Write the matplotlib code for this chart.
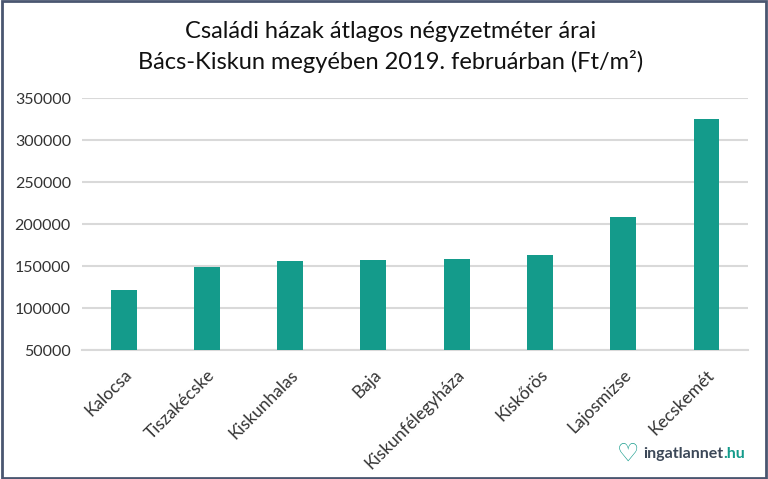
import matplotlib
matplotlib.use("Agg")
from matplotlib import pyplot as plt
from matplotlib.patches import Rectangle

plt.rcParams['font.family'] = ['Lato', 'DejaVu Sans']

cities = ['Kalocsa', 'Tiszakécske', 'Kiskunhalas', 'Baja', 'Kiskunfélegyháza',
          'Kiskőrös', 'Lajosmizse', 'Kecskemét']
prices = [121000, 148500, 155500, 157000, 158000, 163000, 208000, 324500]
yticks = [50000, 100000, 150000, 200000, 250000, 300000, 350000]

bar_color = '#149b8b'
grid_color = '#d9d9d9'
text_color = '#333333'

fig = plt.figure(figsize=(7.68, 4.79), dpi=100)
ax = fig.add_axes([0.1068, 0.2693, 0.974 - 0.1068, 0.7954 - 0.2693])

x_pos = list(range(len(cities)))
ax.bar(x_pos, prices, width=0.31, color=bar_color, zorder=3)

ax.set_ylim(50000, 350000)
ax.set_xlim(-0.5, len(cities) - 0.5)
ax.set_yticks(yticks)
ax.set_yticklabels([str(v) for v in yticks], fontsize=11.5, color=text_color)
ax.set_xticks(x_pos)
ax.set_xticklabels(cities, rotation=45, ha='right', rotation_mode='anchor',
                   fontsize=12.5, color=text_color)
ax.tick_params(axis='both', length=0, pad=8)
ax.tick_params(axis='x', pad=12)
ax.yaxis.grid(True, color=grid_color, linewidth=1.5, zorder=0)
for s in ['top', 'right', 'left']:
    ax.spines[s].set_visible(False)
ax.spines['bottom'].set_color(grid_color)
ax.spines['bottom'].set_linewidth(1.5)

fig.text(0.508, 0.935, 'Családi házak átlagos négyzetméter árai',
         ha='center', va='center', fontsize=17, color='#111111')
fig.text(0.508, 0.872, 'Bács-Kiskun megyében 2019. februárban (Ft/m²)',
         ha='center', va='center', fontsize=17, color='#111111')

# logo
fig.text(0.818, 0.052, '♡', ha='center', va='center', fontsize=18,
         color=bar_color, family=['DejaVu Sans'], weight='bold')
t = fig.text(0.838, 0.052, 'ingatlannet', ha='left', va='center',
             fontsize=11.5, color='#3c4858', weight='bold')
fig.canvas.draw()
bb = t.get_window_extent().transformed(fig.transFigure.inverted())
fig.text(bb.x1, 0.052, '.hu', ha='left', va='center', fontsize=11.5,
         color=bar_color, weight='bold')

# frame
fig.patches.append(Rectangle((0.002, 0.003), 0.996, 0.994, transform=fig.transFigure,
                             fill=False, edgecolor='#4a5670', linewidth=2))

fig.savefig('out.png', dpi=100)
